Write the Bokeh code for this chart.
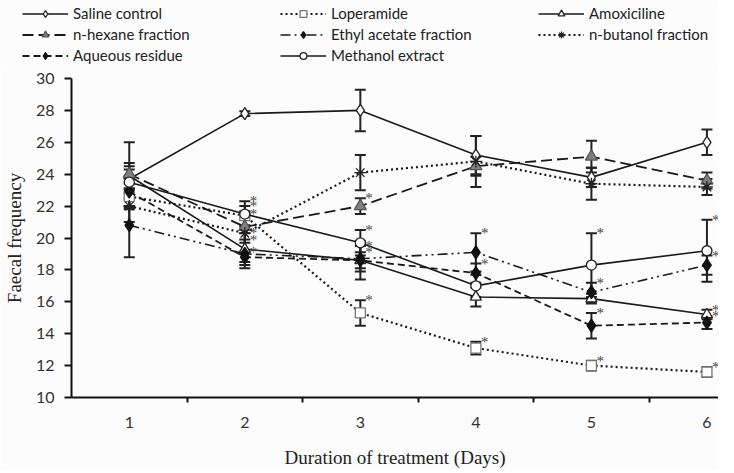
from bokeh.plotting import figure
from bokeh.layouts import column
from bokeh.models import (ColumnDataSource, Range1d, FixedTicker, Whisker, TeeHead,
                          Legend, LegendItem)
from bokeh.core.properties import value
from bokeh.embed import file_html
from bokeh.resources import INLINE

# ---------------- data ----------------
days = [1, 2, 3, 4, 5, 6]
day_separators = [1.5, 2.5, 3.5, 4.5, 5.5]
y_ticks = [10, 12, 14, 16, 18, 20, 22, 24, 26, 28, 30]

saline = [23.7, 27.8, 28.0, 25.2, 23.8, 26.0]
saline_err = [0.6, 0.15, 1.3, 1.2, 0.6, 0.8]
saline_sig = [0, 0, 0, 0, 0, 0]

loperamide = [22.6, 21.4, 15.3, 13.1, 12.0, 11.6]
loperamide_err = [0.8, 0.6, 0.8, 0.4, 0.3, 0.3]
loperamide_sig = [0, 1, 1, 1, 1, 1]

amoxiciline = [23.9, 19.3, 18.6, 16.3, 16.2, 15.2]
amoxiciline_err = [0.8, 1.0, 1.2, 0.6, 0.3, 0.3]
amoxiciline_sig = [0, 1, 0, 0, 0, 1]

hexane = [24.0, 20.7, 22.0, 24.5, 25.1, 23.6]
hexane_err = [2.0, 1.0, 0.5, 0.6, 1.0, 0.5]
hexane_sig = [0, 0, 1, 0, 0, 0]

ethyl = [20.8, 19.0, 18.7, 19.1, 16.6, 18.3]
ethyl_err = [2.0, 0.9, 0.8, 1.2, 0.6, 0.6]
ethyl_sig = [0, 1, 1, 1, 1, 1]

butanol = [22.0, 20.3, 24.1, 24.8, 23.4, 23.2]
butanol_err = [1.0, 1.2, 1.1, 1.6, 1.0, 0.5]
butanol_sig = [0, 1, 0, 0, 0, 0]

aqueous = [22.9, 18.8, 18.6, 17.8, 14.5, 14.7]
aqueous_err = [1.0, 0.3, 0.5, 0.6, 0.8, 0.4]
aqueous_sig = [0, 1, 1, 1, 1, 1]

methanol = [23.5, 21.5, 19.7, 17.0, 18.3, 19.2]
methanol_err = [1.0, 0.8, 0.8, 0.7, 2.0, 1.95]
methanol_sig = [0, 1, 1, 0, 1, 1]

series = [
    dict(name="Saline control", y=saline, err=saline_err, sig=saline_sig,
         dash="solid", marker="diamond", size=12, fill="white", mline="#222222", lw=1.6),
    dict(name="Loperamide", y=loperamide, err=loperamide_err, sig=loperamide_sig,
         dash="2 3", marker="square", size=10, fill="white", mline="#777777", lw=2.2),
    dict(name="Amoxiciline", y=amoxiciline, err=amoxiciline_err, sig=amoxiciline_sig,
         dash="solid", marker="triangle", size=11, fill="white", mline="#222222", lw=1.6),
    dict(name="n-hexane fraction", y=hexane, err=hexane_err, sig=hexane_sig,
         dash="11 5", marker="triangle", size=12, fill="#808080", mline="#555555", lw=1.8),
    dict(name="Ethyl acetate fraction", y=ethyl, err=ethyl_err, sig=ethyl_sig,
         dash="10 4 2 4 2 4", marker="diamond", size=13, fill="#111111", mline="#111111", lw=1.6),
    dict(name="n-butanol fraction", y=butanol, err=butanol_err, sig=butanol_sig,
         dash="2 3", marker="asterisk", size=12, fill="#222222", mline="#222222", lw=2.2),
    dict(name="Aqueous residue", y=aqueous, err=aqueous_err, sig=aqueous_sig,
         dash="7 4", marker="diamond", size=13, fill="#111111", mline="#111111", lw=1.8),
    dict(name="Methanol extract", y=methanol, err=methanol_err, sig=methanol_sig,
         dash="solid", marker="circle", size=10, fill="white", mline="#222222", lw=1.6),
]

BG = "#fcfcfc"

# ---------------- main plot ----------------
p = figure(width=718, height=404, x_range=Range1d(0.5, 6.10), y_range=Range1d(10, 30),
           output_backend="svg", toolbar_location=None,
           min_border_left=63, min_border_right=0, min_border_top=12, min_border_bottom=60,
           background_fill_color=BG, border_fill_color=BG, outline_line_color=None)
p.frame_align = False
p.xgrid.visible = False
p.ygrid.visible = False

p.yaxis.ticker = FixedTicker(ticks=y_ticks)
p.yaxis.major_tick_out = 7
p.yaxis.major_tick_in = 0
p.yaxis.minor_tick_out = 0
p.yaxis.minor_tick_in = 0
p.yaxis.axis_line_width = 2
p.yaxis.major_tick_line_width = 2
p.yaxis.major_label_standoff = 10
p.yaxis.axis_label = "Faecal frequency"
p.yaxis.axis_label_standoff = 8

p.xaxis.ticker = FixedTicker(ticks=days, minor_ticks=day_separators)
p.xaxis.major_tick_out = 0
p.xaxis.major_tick_in = 0
p.xaxis.minor_tick_out = 5
p.xaxis.minor_tick_in = 0
p.xaxis.minor_tick_line_width = 2
p.xaxis.axis_line_width = 2
p.xaxis.major_label_standoff = 14
p.xaxis.axis_label = "Duration of treatment (Days)"
p.xaxis.axis_label_standoff = 16

for ax in (p.xaxis, p.yaxis):
    ax.axis_line_color = "#111111"
    ax.major_tick_line_color = "#111111"
    ax.minor_tick_line_color = "#111111"
    ax.major_label_text_font = "Lato"
    ax.major_label_text_font_size = "16px"
    ax.major_label_text_color = "#333333"
    ax.axis_label_text_font = "Liberation Serif"
    ax.axis_label_text_font_size = "19px"
    ax.axis_label_text_font_style = "normal"
    ax.axis_label_text_color = "#222222"

# ---------------- legend-only strip ----------------
# its range is far from the data, so the proxy renderers only feed the legend
lg = figure(width=718, height=66, x_range=Range1d(100, 101), y_range=Range1d(100, 101),
            output_backend="svg", toolbar_location=None, x_axis_type=None, y_axis_type=None,
            min_border=0, background_fill_color=BG, border_fill_color=BG,
            outline_line_color=None)
lg.frame_align = False
lg.xgrid.visible = False
lg.ygrid.visible = False

items = []
star_x, star_y = [], []
for s in series:
    up = [v + e for v, e in zip(s["y"], s["err"])]
    lo = [v - e for v, e in zip(s["y"], s["err"])]
    src = ColumnDataSource(dict(x=days, y=s["y"], upper=up, lower=lo))
    w = Whisker(source=src, base="x", upper="upper", lower="lower", dimension="height",
                line_color="#222222", line_width=2,
                upper_head=TeeHead(size=11, line_color="#222222", line_width=2),
                lower_head=TeeHead(size=11, line_color="#222222", line_width=2),
                level="underlay")
    p.add_layout(w)
    p.line("x", "y", source=src, line_color="#1a1a1a", line_width=s["lw"],
           line_dash=s["dash"])
    p.scatter("x", "y", source=src, marker=s["marker"], size=s["size"],
              fill_color=s["fill"], line_color=s["mline"], line_width=1.3)
    lr = lg.line("x", "y", source=src, line_color="#1a1a1a", line_width=s["lw"],
                 line_dash=s["dash"])
    mr = lg.scatter("x", "y", source=src, marker=s["marker"], size=s["size"] - 1,
                    fill_color=s["fill"], line_color=s["mline"], line_width=1.3)
    items.append(LegendItem(label=s["name"], renderers=[lr, mr]))
    for d, u, f in zip(days, up, s["sig"]):
        if f:
            star_x.append(d)
            star_y.append(u)

star_src = ColumnDataSource(dict(x=star_x, y=star_y, t=["*"] * len(star_x)))
p.text("x", "y", text="t", source=star_src, text_font=value("Liberation Serif"),
       text_font_size="15px", text_color="#444444", text_align="left",
       text_baseline="middle", x_offset=5)

legend = Legend(items=items, orientation="horizontal", ncols=3,
                location=(22, 2), glyph_width=46, glyph_height=17,
                label_standoff=5, label_width=204, spacing=3, padding=2, margin=0,
                label_text_font="Lato", label_text_font_size="15px",
                label_text_color="#222222", background_fill_alpha=0,
                border_line_color=None)
lg.add_layout(legend, "center")

layout = column(lg, p, spacing=0)
open("out.html", "w").write(file_html(layout, INLINE))
